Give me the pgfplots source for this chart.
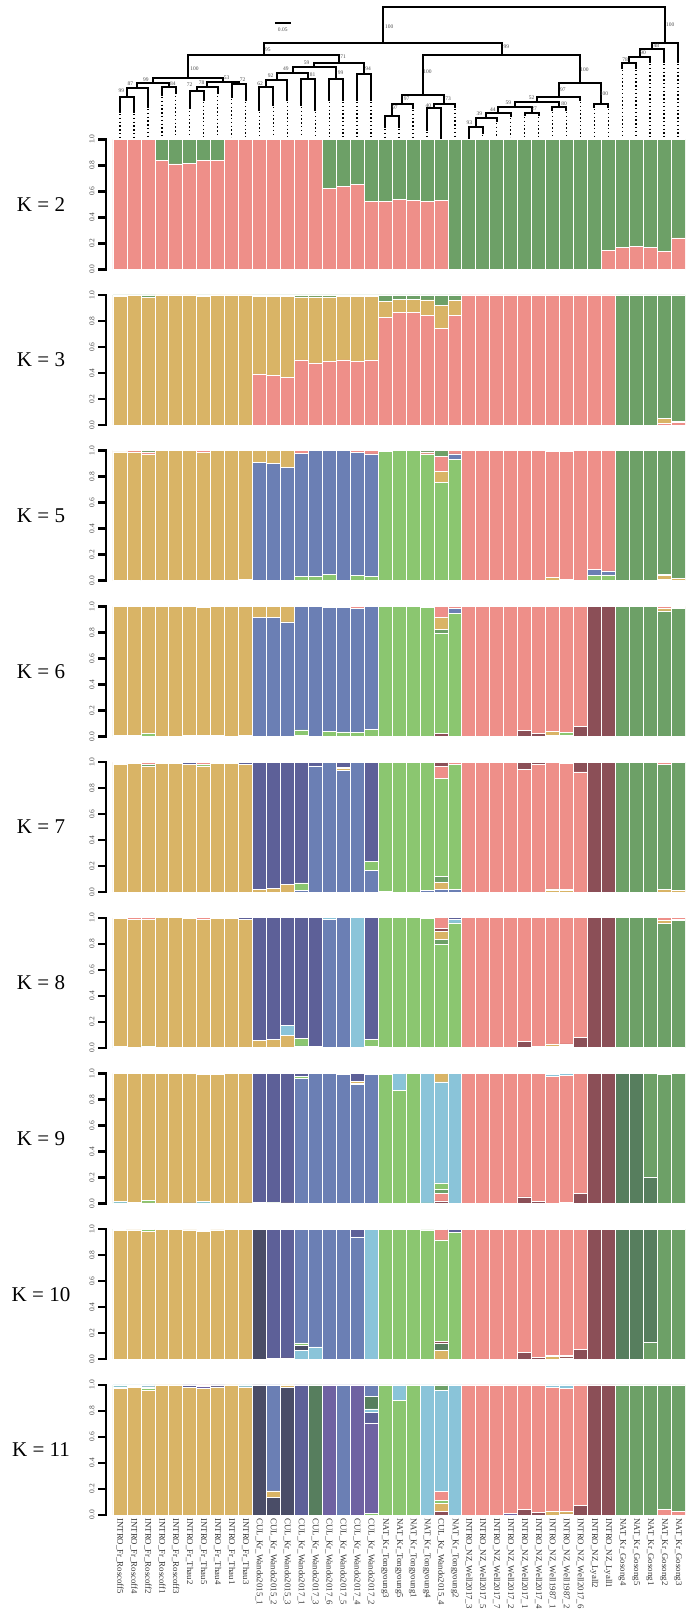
\documentclass[border=0pt]{standalone}
\usepackage{fontspec}
\setmainfont{Liberation Serif}
\usepackage{pgfplots}
\usepackage{pgfplotstable}
\pgfplotsset{compat=1.18}

\definecolor{cP}{HTML}{EE8F89}
\definecolor{cG}{HTML}{6DA067}
\definecolor{cT}{HTML}{D9B466}
\definecolor{cB}{HTML}{6B7FB4}
\definecolor{cL}{HTML}{8BC670}
\definecolor{cM}{HTML}{8B4F57}
\definecolor{cD}{HTML}{5D6098}
\definecolor{cC}{HTML}{8AC4D9}
\definecolor{cDG}{HTML}{577E5E}
\definecolor{cS}{HTML}{4A4D67}
\definecolor{cV}{HTML}{6F62A2}

% ---------------- K = 2 ----------------
\pgfplotstableread{
x P G
0 1 0
1 1 0
2 1 0
3 0.835 0.165
4 0.81 0.19
5 0.815 0.185
6 0.835 0.165
7 0.835 0.165
8 1 0
9 1 0
10 1 0
11 1 0
12 1 0
13 1 0
14 1 0
15 0.625 0.375
16 0.638 0.362
17 0.65 0.35
18 0.523 0.477
19 0.52 0.48
20 0.54 0.46
21 0.53 0.47
22 0.52 0.48
23 0.528 0.472
24 0 1
25 0 1
26 0 1
27 0 1
28 0 1
29 0 1
30 0 1
31 0 1
32 0 1
33 0 1
34 0 1
35 0.148 0.852
36 0.166 0.834
37 0.179 0.821
38 0.166 0.834
39 0.14 0.86
40 0.242 0.758
}\tKii

% ---------------- K = 3 ----------------
\pgfplotstableread{
x P T G
0 0 0.99 0.01
1 0 0.995 0.005
2 0 0.98 0.02
3 0 1 0
4 0 1 0
5 0 1 0
6 0 0.99 0.01
7 0 1 0
8 0 1 0
9 0 1 0
10 0.393 0.595 0.012
11 0.383 0.605 0.012
12 0.367 0.621 0.012
13 0.50 0.485 0.015
14 0.477 0.508 0.015
15 0.49 0.495 0.015
16 0.50 0.487 0.013
17 0.49 0.497 0.013
18 0.50 0.488 0.012
19 0.827 0.122 0.051
20 0.865 0.102 0.033
21 0.865 0.102 0.033
22 0.84 0.122 0.038
23 0.745 0.175 0.08
24 0.84 0.117 0.043
25 1 0 0
26 1 0 0
27 1 0 0
28 1 0 0
29 1 0 0
30 1 0 0
31 1 0 0
32 1 0 0
33 1 0 0
34 1 0 0
35 1 0 0
36 0 0 1
37 0 0 1
38 0 0 1
39 0.01 0.04 0.95
40 0.018 0.012 0.97
}\tKiii

% ---------------- K = 5 ----------------
\pgfplotstableread{
x L B T P G
0 0 0 0.99 0.005 0.005
1 0 0 0.99 0.01 0
2 0.005 0 0.965 0.02 0.01
3 0 0 1 0 0
4 0 0 1 0 0
5 0 0.005 0.995 0 0
6 0 0 0.985 0.015 0
7 0 0.005 0.995 0 0
8 0 0 1 0 0
9 0 0.007 0.993 0 0
10 0 0.91 0.09 0 0
11 0 0.903 0.097 0 0
12 0 0.873 0.127 0 0
13 0.03 0.95 0 0.02 0
14 0.035 0.965 0 0 0
15 0.05 0.95 0 0 0
16 0.005 0.995 0 0 0
17 0.04 0.945 0 0.015 0
18 0.035 0.94 0 0.025 0
19 0.995 0 0 0.005 0
20 1 0 0 0 0
21 1 0 0 0 0
22 0.975 0 0 0.015 0.01
23 0.758 0 0.082 0.113 0.047
24 0.936 0.039 0 0.025 0
25 0 0 0 1 0
26 0 0 0 1 0
27 0 0 0 1 0
28 0 0 0 1 0
29 0 0 0 1 0
30 0 0 0 1 0
31 0.005 0 0.02 0.97 0.005
32 0 0 0.01 0.985 0.005
33 0 0 0 1 0
34 0.04 0.045 0 0.915 0
35 0.045 0.03 0 0.925 0
36 0 0 0 0 1
37 0 0 0 0 1
38 0 0 0 0 1
39 0.01 0 0.03 0.01 0.95
40 0 0 0.02 0 0.98
}\tKv

% ---------------- K = 6 ----------------
\pgfplotstableread{
x M L B G T P
0 0 0.01 0 0 0.99 0
1 0 0.005 0 0 0.995 0
2 0 0.02 0 0 0.98 0
3 0 0 0 0 1 0
4 0 0 0 0 1 0
5 0 0 0.005 0 0.995 0
6 0 0.005 0 0 0.99 0.005
7 0 0 0.005 0 0.995 0
8 0 0 0 0 1 0
9 0 0 0.005 0 0.995 0
10 0 0 0.915 0 0.085 0
11 0 0 0.915 0 0.085 0
12 0 0 0.88 0 0.12 0
13 0.01 0.04 0.95 0 0 0
14 0 0 1 0 0 0
15 0 0.04 0.955 0 0 0.005
16 0 0.035 0.955 0 0 0.01
17 0 0.03 0.955 0 0 0.015
18 0 0.055 0.945 0 0 0
19 0 1 0 0 0 0
20 0 1 0 0 0 0
21 0 1 0 0 0 0
22 0 0.99 0.005 0 0 0.005
23 0.02 0.77 0 0.036 0.089 0.085
24 0 0.949 0.038 0 0 0.013
25 0 0 0 0 0 1
26 0 0 0 0 0 1
27 0 0 0 0 0 1
28 0 0 0 0 0 1
29 0.046 0 0 0 0 0.954
30 0.02 0 0 0 0 0.98
31 0 0.01 0 0 0.03 0.96
32 0.01 0.02 0 0 0 0.97
33 0.077 0 0 0 0 0.923
34 1 0 0 0 0 0
35 1 0 0 0 0 0
36 0 0 0 1 0 0
37 0 0 0 1 0 0
38 0 0 0 1 0 0
39 0 0 0 0.965 0.02 0.015
40 0 0 0 0.985 0.01 0.005
}\tKvi

% ---------------- K = 7 ----------------
\pgfplotstableread{
x B T G L D P M
0 0 0.985 0.005 0 0 0.01 0
1 0 0.99 0 0 0 0.01 0
2 0 0.965 0.02 0 0 0.015 0
3 0 0.99 0 0 0 0.01 0
4 0 0.99 0 0 0 0.01 0
5 0 0.985 0 0 0.01 0.005 0
6 0 0.97 0 0.01 0 0.02 0
7 0 0.99 0 0 0 0.01 0
8 0 0.99 0 0 0 0.01 0
9 0 0.985 0 0 0.015 0 0
10 0 0.02 0 0 0.98 0 0
11 0 0.03 0 0 0.97 0 0
12 0 0.06 0 0 0.94 0 0
13 0.015 0 0 0.055 0.93 0 0
14 0.97 0 0 0 0.03 0 0
15 1 0 0 0 0 0 0
16 0.936 0.018 0 0.005 0.041 0 0
17 1 0 0 0 0 0 0
18 0.165 0 0 0.07 0.765 0 0
19 0 0.005 0 0.995 0 0 0
20 0 0 0 1 0 0 0
21 0 0 0 1 0 0 0
22 0.01 0 0 0.99 0 0 0
23 0.018 0.059 0.043 0.752 0 0.095 0.033
24 0.02 0 0 0.96 0 0.02 0
25 0 0 0 0 0 1 0
26 0 0 0 0 0 1 0
27 0 0 0 0 0 1 0
28 0 0 0 0 0 1 0
29 0 0 0 0 0 0.945 0.055
30 0 0 0 0 0 0.98 0.02
31 0 0.01 0 0.015 0 0.975 0
32 0 0.01 0 0.01 0 0.97 0.01
33 0 0 0 0 0 0.925 0.075
34 0 0 0 0 0 0 1
35 0 0 0 0 0 0 1
36 0 0 1 0 0 0 0
37 0 0 1 0 0 0 0
38 0 0 1 0 0 0 0
39 0 0.02 0.96 0 0 0.02 0
40 0 0.015 0.985 0 0 0 0
}\tKvii

% ---------------- K = 8 ----------------
\pgfplotstableread{
x B L G T C D M P
0 0 0.01 0 0.985 0 0 0 0.005
1 0 0 0 0.99 0 0 0 0.01
2 0 0.015 0 0.975 0 0 0 0.01
3 0 0 0 1 0 0 0 0
4 0 0 0 1 0 0 0 0
5 0 0 0 0.995 0 0.005 0 0
6 0 0.005 0 0.985 0 0 0 0.01
7 0 0 0 0.995 0 0.005 0 0
8 0 0 0 0.995 0 0 0 0.005
9 0 0 0 0.99 0 0.01 0 0
10 0 0 0 0.059 0 0.941 0 0
11 0 0 0 0.065 0 0.935 0 0
12 0 0 0 0.094 0.077 0.829 0 0
13 0.015 0.06 0 0 0 0.925 0 0
14 0 0.01 0 0 0 0.99 0 0
15 0.985 0 0 0 0.015 0 0 0
16 1 0 0 0 0 0 0 0
17 0 0 0 0 1 0 0 0
18 0.01 0.055 0 0 0 0.935 0 0
19 0 1 0 0 0 0 0 0
20 0 1 0 0 0 0 0 0
21 0 1 0 0 0 0 0 0
22 0.005 0.99 0 0 0 0 0 0.005
23 0 0.798 0.035 0.065 0 0 0.02 0.082
24 0 0.96 0 0 0.025 0.015 0 0
25 0 0 0 0 0 0 0 1
26 0 0 0 0 0 0 0 1
27 0 0 0 0 0 0 0 1
28 0 0 0 0 0 0 0 1
29 0 0 0 0 0 0 0.05 0.95
30 0 0 0 0 0 0 0.012 0.988
31 0 0.01 0 0.02 0 0 0 0.97
32 0 0.01 0 0.01 0 0 0.01 0.97
33 0 0 0 0 0 0 0.08 0.92
34 0 0 0 0 0 0 1 0
35 0 0 0 0 0 0 1 0
36 0 0 1 0 0 0 0 0
37 0 0 1 0 0 0 0 0
38 0 0 1 0 0 0 0 0
39 0 0 0.957 0.025 0 0 0 0.018
40 0 0 0.98 0.01 0 0 0 0.01
}\tKviii

% ---------------- K = 9 ----------------
\pgfplotstableread{
x M P DG G B L C T D
0 0 0 0 0 0 0.005 0.01 0.985 0
1 0 0.008 0 0 0 0 0 0.992 0
2 0 0.005 0 0 0 0.02 0 0.975 0
3 0 0 0 0 0 0 0 1 0
4 0 0 0 0 0 0 0 1 0
5 0 0 0 0 0.005 0 0 0.995 0
6 0 0 0 0 0 0.005 0.01 0.98 0.005
7 0 0 0 0 0 0 0 0.995 0.005
8 0 0 0 0 0 0 0 1 0
9 0 0 0 0 0.005 0 0 0.995 0
10 0 0 0 0 0 0 0.01 0 0.99
11 0 0 0 0 0 0.005 0.005 0 0.99
12 0 0 0 0 0 0 0 0.005 0.995
13 0 0 0 0 0.965 0.015 0 0 0.02
14 0 0 0 0 1 0 0 0 0
15 0 0 0 0 1 0 0 0 0
16 0 0 0 0 0.995 0 0 0 0.005
17 0 0 0 0 0.916 0 0.005 0.02 0.059
18 0 0 0 0 0.99 0.01 0 0 0
19 0 0 0 0 0 0.995 0 0.005 0
20 0 0 0 0 0 0.873 0.127 0 0
21 0 0 0 0 0 1 0 0 0
22 0 0 0 0 0 0.005 0.995 0 0
23 0.02 0.056 0 0.033 0 0.05 0.777 0.064 0
24 0 0 0 0 0 0 1 0 0
25 0 1 0 0 0 0 0 0 0
26 0 1 0 0 0 0 0 0 0
27 0 1 0 0 0 0 0 0 0
28 0 1 0 0 0 0 0 0 0
29 0.05 0.95 0 0 0 0 0 0 0
30 0.015 0.985 0 0 0 0 0 0 0
31 0 0.975 0 0 0 0 0.015 0.01 0
32 0.008 0.977 0 0 0 0 0.015 0 0
33 0.08 0.92 0 0 0 0 0 0 0
34 1 0 0 0 0 0 0 0 0
35 1 0 0 0 0 0 0 0 0
36 0 0 1 0 0 0 0 0 0
37 0 0 1 0 0 0 0 0 0
38 0 0 0.204 0.796 0 0 0 0 0
39 0 0 0 0.995 0 0 0 0.005 0
40 0 0 0 1 0 0 0 0 0
}\tKix

% ---------------- K = 10 ----------------
\pgfplotstableread{
x T G DG M C S L B D P
0 0.99 0 0 0 0 0 0.01 0 0 0
1 0.995 0 0 0 0.005 0 0 0 0 0
2 0.985 0 0 0 0 0 0.015 0 0 0
3 1 0 0 0 0 0 0 0 0 0
4 1 0 0 0 0 0 0 0 0 0
5 0.995 0 0 0 0 0 0 0 0.005 0
6 0.985 0 0 0 0.005 0 0.01 0 0 0
7 0.995 0 0 0 0 0 0 0 0.005 0
8 1 0 0 0 0 0 0 0 0 0
9 1 0 0 0 0 0 0 0 0 0
10 0 0 0 0 0 1 0 0 0 0
11 0 0 0 0 0.005 0 0 0 0.995 0
12 0 0 0 0.01 0 0 0 0 0.99 0
13 0 0 0 0 0.065 0.04 0.02 0.875 0 0
14 0 0 0 0 0.095 0 0 0.905 0 0
15 0 0 0 0 0 0 0 1 0 0
16 0 0 0 0 0 0 0 1 0 0
17 0 0 0 0 0 0 0 0.94 0.06 0
18 0 0 0 0 1 0 0 0 0 0
19 0 0 0 0 0 0 1 0 0 0
20 0 0 0 0 0 0 1 0 0 0
21 0 0 0 0 0 0 1 0 0 0
22 0 0 0 0 0 0 0.995 0 0 0.005
23 0.07 0 0.05 0.015 0 0 0.783 0 0 0.082
24 0 0 0 0 0 0 0.975 0 0.025 0
25 0 0 0 0 0 0 0 0 0 1
26 0 0 0 0 0 0 0 0 0 1
27 0 0 0 0 0 0 0 0 0 1
28 0 0 0 0 0 0 0 0 0 1
29 0 0 0 0.05 0 0 0 0 0 0.95
30 0 0 0 0.015 0 0 0 0 0 0.985
31 0.02 0 0 0 0 0 0.01 0 0 0.97
32 0.01 0 0 0.01 0 0 0.01 0 0 0.97
33 0 0 0 0.075 0 0 0 0 0 0.925
34 0 0 0 1 0 0 0 0 0 0
35 0 0 0 1 0 0 0 0 0 0
36 0 0 1 0 0 0 0 0 0 0
37 0 0 1 0 0 0 0 0 0 0
38 0 0.13 0.87 0 0 0 0 0 0 0
39 0 1 0 0 0 0 0 0 0 0
40 0 1 0 0 0 0 0 0 0 0
}\tKx

% ---------------- K = 11 ----------------
\pgfplotstableread{
x M S T L V D P C DG B G
0 0 0 0.975 0.01 0 0 0 0.015 0 0 0
1 0 0 0.98 0 0 0 0.01 0.01 0 0 0
2 0 0 0.96 0.015 0 0 0.01 0.015 0 0 0
3 0 0 1 0 0 0 0 0 0 0 0
4 0 0 1 0 0 0 0 0 0 0 0
5 0 0 0.98 0 0 0.02 0 0 0 0 0
6 0 0 0.97 0 0.02 0 0.01 0 0 0 0
7 0 0 0.985 0 0 0.015 0 0 0 0 0
8 0 0 1 0 0 0 0 0 0 0 0
9 0 0 0.985 0 0 0 0 0.015 0 0 0
10 0 1 0 0 0 0 0 0 0 0 0
11 0 0.133 0.052 0 0 0 0 0 0 0.815 0
12 0 0.98 0.02 0 0 0 0 0 0 0 0
13 0 0 0 0 0 1 0 0 0 0 0
14 0 0 0 0 0 0 0 0 1 0 0
15 0 0 0 0 1 0 0 0 0 0 0
16 0 0 0 0 0 0 0 0 0 1 0
17 0 0 0 0 1 0 0 0 0 0 0
18 0 0 0 0.01 0.698 0.082 0 0.025 0.098 0.087 0
19 0 0 0 1 0 0 0 0 0 0 0
20 0 0 0 0.882 0 0 0 0.118 0 0 0
21 0 0 0 0.995 0 0 0 0 0 0 0.005
22 0 0 0 0 0 0 0 1 0 0 0
23 0.025 0 0.065 0.02 0 0 0.07 0.78 0 0 0.04
24 0 0 0 0 0 0 0 1 0 0 0
25 0 0 0 0 0 0 1 0 0 0 0
26 0 0 0 0 0 0 1 0 0 0 0
27 0 0 0 0 0 0 1 0 0 0 0
28 0 0 0 0 0.01 0 0.99 0 0 0 0
29 0.044 0 0 0 0 0 0.956 0 0 0 0
30 0.018 0 0 0 0 0 0.982 0 0 0 0
31 0 0 0.03 0 0 0 0.95 0.02 0 0 0
32 0.008 0 0.017 0 0 0 0.95 0.025 0 0 0
33 0.07 0 0 0 0 0 0.93 0 0 0 0
34 1 0 0 0 0 0 0 0 0 0 0
35 1 0 0 0 0 0 0 0 0 0 0
36 0 0 0 0 0 0 0 0 0 0 1
37 0 0 0 0 0 0 0 0 0 0 1
38 0 0 0 0 0 0 0 0 0 0 1
39 0 0 0 0 0 0 0.04 0 0 0 0.96
40 0 0 0 0 0 0 0.025 0 0 0 0.975
}\tKxi

% ---------------- dendrogram (x = sample index, y = pixel depth) ----------------
\pgfplotstableread{
x y
0 111.7
0 96.7
1 96.7
1 111.7
nan nan
0.5 96.7
0.5 88.3
2 88.3
2 106.7
nan nan
3 95
3 87.3
4 87.3
4 93.3
nan nan
1.25 88.3
1.25 83.3
3.5 83.3
3.5 87.3
nan nan
5 108.3
5 90.7
6 90.7
6 100
nan nan
5.5 90.7
5.5 86.7
7 86.7
7 93.3
nan nan
8 96.7
8 84
9 84
9 100
nan nan
6.25 86.7
6.25 81.7
8.5 81.7
8.5 84
nan nan
2.375 83.3
2.375 78.3
7.375 78.3
7.375 81.7
nan nan
10 110
10 87.3
11 87.3
11 105
nan nan
10.5 87.3
10.5 80
12 80
12 100
nan nan
13 105
13 79.3
14 79.3
14 110
nan nan
11.25 80
11.25 72.7
13.5 72.7
13.5 79.3
nan nan
15 100
15 79.3
16 79.3
16 100
nan nan
12.375 72.7
12.375 67.5
15.5 67.5
15.5 79.3
nan nan
17 100
17 74
18 74
18 100
nan nan
13.94 67.5
13.94 62.7
17.5 62.7
17.5 74
nan nan
4.875 78.3
4.875 55
15.72 55
15.72 62.7
nan nan
19 126.7
19 116
20 116
20 126.7
nan nan
19.5 116
19.5 104
21 104
21 108
nan nan
22 130
22 108.3
23 108.3
23 138.5
nan nan
22.5 108.3
22.5 104
24 104
24 107
nan nan
20.25 104
20.25 95
23.25 95
23.25 104
nan nan
25 138.5
25 127.3
26 127.3
26 133
nan nan
25.5 127.3
25.5 118.3
27 118.3
27 121
nan nan
26.25 118.3
26.25 113.3
28 113.3
28 116
nan nan
29 115
29 112.7
30 112.7
30 115
nan nan
27.125 113.3
27.125 107.3
29.5 107.3
29.5 112.7
nan nan
31 110
31 107.3
32 107.3
32 110
nan nan
28.31 107.3
28.31 101.7
31.5 101.7
31.5 107.3
nan nan
29.91 101.7
29.91 96.7
33 96.7
33 100
nan nan
34 107
34 104
35 104
35 107
nan nan
31.45 96.7
31.45 83.3
34.5 83.3
34.5 104
nan nan
21.75 95
21.75 55
32.98 55
32.98 83.3
nan nan
10.3 55
10.3 42.7
27.37 42.7
27.37 55
nan nan
36 68
36 63.3
37 63.3
37 68
nan nan
36.5 63.3
36.5 57.3
38 57.3
38 62
nan nan
37.25 57.3
37.25 49.3
39 49.3
39 61.7
nan nan
38.125 49.3
38.125 42.7
40 42.7
40 61.7
nan nan
18.84 42.7
18.84 7.3
39.06 7.3
39.06 42.7
}\dendro

\pgfplotstableread{
x y
0 114 
0 137
nan nan
1 114
1 137
nan nan
2 109
2 137
nan nan
3 97
3 137
nan nan
4 96
4 137
nan nan
5 111
5 137
nan nan
6 102
6 137
nan nan
7 96
7 137
nan nan
8 99
8 137
nan nan
9 102
9 137
nan nan
10 112
10 137
nan nan
11 107
11 137
nan nan
12 102
12 137
nan nan
13 107
13 137
nan nan
14 112
14 137
nan nan
15 102
15 137
nan nan
16 102
16 137
nan nan
17 102
17 137
nan nan
18 102
18 137
nan nan
19 129
19 137
nan nan
20 129
20 137
nan nan
21 110
21 137
nan nan
22 132
22 137
nan nan
24 109
24 137
nan nan
26 135
26 137
nan nan
27 123
27 137
nan nan
28 118
28 137
nan nan
29 117
29 137
nan nan
30 117
30 137
nan nan
31 112
31 137
nan nan
32 112
32 137
nan nan
33 102
33 137
nan nan
34 109
34 137
nan nan
35 109
35 137
nan nan
36 70
36 137
nan nan
37 70
37 137
nan nan
38 64
38 137
nan nan
39 64
39 137
nan nan
40 64
40 137
}\leafdots

\pgfplotsset{
  panel/.style={
    ybar stacked, bar width=1,
    scale only axis, width=579pt, height=130pt,
    xmin=-1, xmax=40.5, ymin=0, ymax=1,
    anchor=south west,
    axis x line*=bottom, axis y line*=left,
    axis line style={draw=none},
    xtick=\empty,
    xtick style={draw=none},
    ytick={0,0.2,0.4,0.6,0.8,1},
    yticklabels={0.0,0.2,0.4,0.6,0.8,1.0},
    tick align=outside,
    major tick length=8pt,
    ytick style={draw=none},
    yticklabel style={rotate=90, anchor=south, font=\fontsize{7.5}{8}\selectfont, text=black!70},
    every axis plot/.append style={draw=white, line width=0.6pt},
  },
}
\tikzset{
  klab/.style={font=\fontsize{21}{21}\selectfont},
  blab/.style={font=\fontsize{5.5}{5.5}\selectfont, text=black!70, inner sep=0pt},
}

\begin{document}
\begin{tikzpicture}
\path[use as bounding box] (0,0) rectangle (689pt,1616pt);

% K = 2
\begin{axis}[panel, at={(106pt,1346.7pt)}]
\addplot[fill=cP] table[x=x,y=P] {\tKii};
\addplot[fill=cG] table[x=x,y=G] {\tKii};
\end{axis}
\node[klab] at (41pt,1411.7pt) {K = 2};

% K = 3
\begin{axis}[panel, at={(106pt,1191.0pt)}]
\addplot[fill=cP] table[x=x,y=P] {\tKiii};
\addplot[fill=cT] table[x=x,y=T] {\tKiii};
\addplot[fill=cG] table[x=x,y=G] {\tKiii};
\end{axis}
\node[klab] at (41pt,1256.0pt) {K = 3};

% K = 5
\begin{axis}[panel, at={(106pt,1035.3pt)}]
\addplot[fill=cL] table[x=x,y=L] {\tKv};
\addplot[fill=cB] table[x=x,y=B] {\tKv};
\addplot[fill=cT] table[x=x,y=T] {\tKv};
\addplot[fill=cP] table[x=x,y=P] {\tKv};
\addplot[fill=cG] table[x=x,y=G] {\tKv};
\end{axis}
\node[klab] at (41pt,1100.3pt) {K = 5};

% K = 6
\begin{axis}[panel, at={(106pt,879.6pt)}]
\addplot[fill=cM] table[x=x,y=M] {\tKvi};
\addplot[fill=cL] table[x=x,y=L] {\tKvi};
\addplot[fill=cB] table[x=x,y=B] {\tKvi};
\addplot[fill=cG] table[x=x,y=G] {\tKvi};
\addplot[fill=cT] table[x=x,y=T] {\tKvi};
\addplot[fill=cP] table[x=x,y=P] {\tKvi};
\end{axis}
\node[klab] at (41pt,944.6pt) {K = 6};

% K = 7
\begin{axis}[panel, at={(106pt,723.9pt)}]
\addplot[fill=cB] table[x=x,y=B] {\tKvii};
\addplot[fill=cT] table[x=x,y=T] {\tKvii};
\addplot[fill=cG] table[x=x,y=G] {\tKvii};
\addplot[fill=cL] table[x=x,y=L] {\tKvii};
\addplot[fill=cD] table[x=x,y=D] {\tKvii};
\addplot[fill=cP] table[x=x,y=P] {\tKvii};
\addplot[fill=cM] table[x=x,y=M] {\tKvii};
\end{axis}
\node[klab] at (41pt,788.9pt) {K = 7};

% K = 8
\begin{axis}[panel, at={(106pt,568.2pt)}]
\addplot[fill=cB] table[x=x,y=B] {\tKviii};
\addplot[fill=cL] table[x=x,y=L] {\tKviii};
\addplot[fill=cG] table[x=x,y=G] {\tKviii};
\addplot[fill=cT] table[x=x,y=T] {\tKviii};
\addplot[fill=cC] table[x=x,y=C] {\tKviii};
\addplot[fill=cD] table[x=x,y=D] {\tKviii};
\addplot[fill=cM] table[x=x,y=M] {\tKviii};
\addplot[fill=cP] table[x=x,y=P] {\tKviii};
\end{axis}
\node[klab] at (41pt,633.2pt) {K = 8};

% K = 9
\begin{axis}[panel, at={(106pt,412.5pt)}]
\addplot[fill=cM] table[x=x,y=M] {\tKix};
\addplot[fill=cP] table[x=x,y=P] {\tKix};
\addplot[fill=cDG] table[x=x,y=DG] {\tKix};
\addplot[fill=cG] table[x=x,y=G] {\tKix};
\addplot[fill=cB] table[x=x,y=B] {\tKix};
\addplot[fill=cL] table[x=x,y=L] {\tKix};
\addplot[fill=cC] table[x=x,y=C] {\tKix};
\addplot[fill=cT] table[x=x,y=T] {\tKix};
\addplot[fill=cD] table[x=x,y=D] {\tKix};
\end{axis}
\node[klab] at (41pt,477.5pt) {K = 9};

% K = 10
\begin{axis}[panel, at={(106pt,256.8pt)}]
\addplot[fill=cT] table[x=x,y=T] {\tKx};
\addplot[fill=cG] table[x=x,y=G] {\tKx};
\addplot[fill=cDG] table[x=x,y=DG] {\tKx};
\addplot[fill=cM] table[x=x,y=M] {\tKx};
\addplot[fill=cC] table[x=x,y=C] {\tKx};
\addplot[fill=cS] table[x=x,y=S] {\tKx};
\addplot[fill=cL] table[x=x,y=L] {\tKx};
\addplot[fill=cB] table[x=x,y=B] {\tKx};
\addplot[fill=cD] table[x=x,y=D] {\tKx};
\addplot[fill=cP] table[x=x,y=P] {\tKx};
\end{axis}
\node[klab] at (41pt,321.8pt) {K = 10};

% K = 11
\begin{axis}[panel, at={(106pt,101.1pt)},
  xtick={0,1,...,40},
  xticklabels={INTRO\_Fr\_Roscoff5, INTRO\_Fr\_Roscoff4, INTRO\_Fr\_Roscoff2, INTRO\_Fr\_Roscoff1, INTRO\_Fr\_Roscoff3, INTRO\_Fr\_Thau2, INTRO\_Fr\_Thau5, INTRO\_Fr\_Thau4, INTRO\_Fr\_Thau1, INTRO\_Fr\_Thau3, CUL\_Kr\_Wando2015\_1, CUL\_Kr\_Wando2015\_2, CUL\_Kr\_Wando2015\_3, CUL\_Kr\_Wando2017\_1, CUL\_Kr\_Wando2017\_3, CUL\_Kr\_Wando2017\_6, CUL\_Kr\_Wando2017\_5, CUL\_Kr\_Wando2017\_4, CUL\_Kr\_Wando2017\_2, NAT\_Kr\_Tongyoung3, NAT\_Kr\_Tongyoung5, NAT\_Kr\_Tongyoung1, NAT\_Kr\_Tongyoung4, CUL\_Kr\_Wando2015\_4, NAT\_Kr\_Tongyoung2, INTRO\_NZ\_Well2017\_3, INTRO\_NZ\_Well2017\_5, INTRO\_NZ\_Well2017\_7, INTRO\_NZ\_Well2017\_2, INTRO\_NZ\_Well2017\_1, INTRO\_NZ\_Well2017\_4, INTRO\_NZ\_Well1987\_1, INTRO\_NZ\_Well1987\_2, INTRO\_NZ\_Well2017\_6, INTRO\_NZ\_Lyall2, INTRO\_NZ\_Lyall1, NAT\_Kr\_Gosong4, NAT\_Kr\_Gosong5, NAT\_Kr\_Gosong1, NAT\_Kr\_Gosong2, NAT\_Kr\_Gosong3},
  xticklabel shift=-8pt,
  xticklabel style={rotate=-90, anchor=west, font=\fontsize{8.8}{9}\selectfont, text=black!80},
]
\addplot[fill=cM] table[x=x,y=M] {\tKxi};
\addplot[fill=cS] table[x=x,y=S] {\tKxi};
\addplot[fill=cT] table[x=x,y=T] {\tKxi};
\addplot[fill=cL] table[x=x,y=L] {\tKxi};
\addplot[fill=cV] table[x=x,y=V] {\tKxi};
\addplot[fill=cD] table[x=x,y=D] {\tKxi};
\addplot[fill=cP] table[x=x,y=P] {\tKxi};
\addplot[fill=cC] table[x=x,y=C] {\tKxi};
\addplot[fill=cDG] table[x=x,y=DG] {\tKxi};
\addplot[fill=cB] table[x=x,y=B] {\tKxi};
\addplot[fill=cG] table[x=x,y=G] {\tKxi};
\end{axis}
\node[klab] at (41pt,166.1pt) {K = 11};

% dendrogram, drawn last (x = sample index, y = pixel row)
\begin{axis}[at={(106pt,1476.7pt)}, anchor=south west, scale only axis,
  width=579pt, height=139.3pt, xmin=-1, xmax=40.5, ymin=0, ymax=139.3,
  y dir=reverse, hide axis, clip=false, unbounded coords=jump]
\addplot[black, line width=2pt, line cap=rect, line join=miter, mark=none] table[x=x,y=y] {\dendro};
\addplot[black, line width=1.4pt, dash pattern=on 1.4pt off 2.4pt, mark=none] table[x=x,y=y] {\leafdots};
\addplot[black, line width=1.6pt, mark=none] coordinates {(11.11,23.3) (12.24,23.3)};
\node[blab] at (axis cs:11.67,30) {0.05};
\node[blab] at (axis cs:19.3,26.7) {100};
\node[blab] at (axis cs:39.45,25) {100};
\node[blab] at (axis cs:10.6,50) {95};
\node[blab] at (axis cs:27.7,47) {99};
\node[blab] at (axis cs:5.35,68.3) {100};
\node[blab] at (axis cs:16.0,57) {71};
\node[blab] at (axis cs:22.05,71.7) {100};
\node[blab] at (axis cs:33.3,70) {100};
\node[blab] at (axis cs:38.45,46) {48};
\node[blab] at (axis cs:37.5,52.7) {90};
\node[blab] at (axis cs:36.2,59.3) {78};
\node[blab] at (axis cs:0.1,90.7) {99};
\node[blab] at (axis cs:0.75,83.3) {87};
\node[blab] at (axis cs:3.8,84) {84};
\node[blab] at (axis cs:1.86,79.3) {99};
\node[blab] at (axis cs:5.0,85) {72};
\node[blab] at (axis cs:5.86,82.7) {78};
\node[blab] at (axis cs:8.8,80) {72};
\node[blab] at (axis cs:7.65,77.3) {53};
\node[blab] at (axis cs:10.04,84) {62};
\node[blab] at (axis cs:10.8,76) {92};
\node[blab] at (axis cs:13.81,75) {81};
\node[blab] at (axis cs:11.9,68.3) {49};
\node[blab] at (axis cs:15.82,72.7) {99};
\node[blab] at (axis cs:13.38,62.7) {59};
\node[blab] at (axis cs:17.78,68.3) {94};
\node[blab] at (axis cs:20.55,99) {97};
\node[blab] at (axis cs:19.71,107.3) {97};
\node[blab] at (axis cs:23.53,99) {73};
\node[blab] at (axis cs:22.1,106) {40};
\node[blab] at (axis cs:31.74,90) {97};
\node[blab] at (axis cs:29.51,97.3) {52};
\node[blab] at (axis cs:31.83,103.3) {80};
\node[blab] at (axis cs:27.84,102.7) {59};
\node[blab] at (axis cs:29.68,108.3) {27};
\node[blab] at (axis cs:26.72,109.3) {44};
\node[blab] at (axis cs:25.76,113.3) {39};
\node[blab] at (axis cs:25.04,122.7) {93};
\node[blab] at (axis cs:34.7,94) {100};
\end{axis}

% R-style y-axis brackets (axis decoration) at the left of each panel
\foreach \yb in {1346.7,1191.0,1035.3,879.6,723.9,568.2,412.5,256.8,101.1} {
  \draw[black, line width=2.5pt, line join=miter]
    (98pt,\yb pt) -- (106pt,\yb pt) -- (106pt,\yb pt+130pt) -- (98pt,\yb pt+130pt);
  \foreach \tj in {26,52,78,104} {
    \draw[black, line width=2.5pt] (98pt,\yb pt+\tj pt) -- (106pt,\yb pt+\tj pt);
  }
}
\end{tikzpicture}
\end{document}
